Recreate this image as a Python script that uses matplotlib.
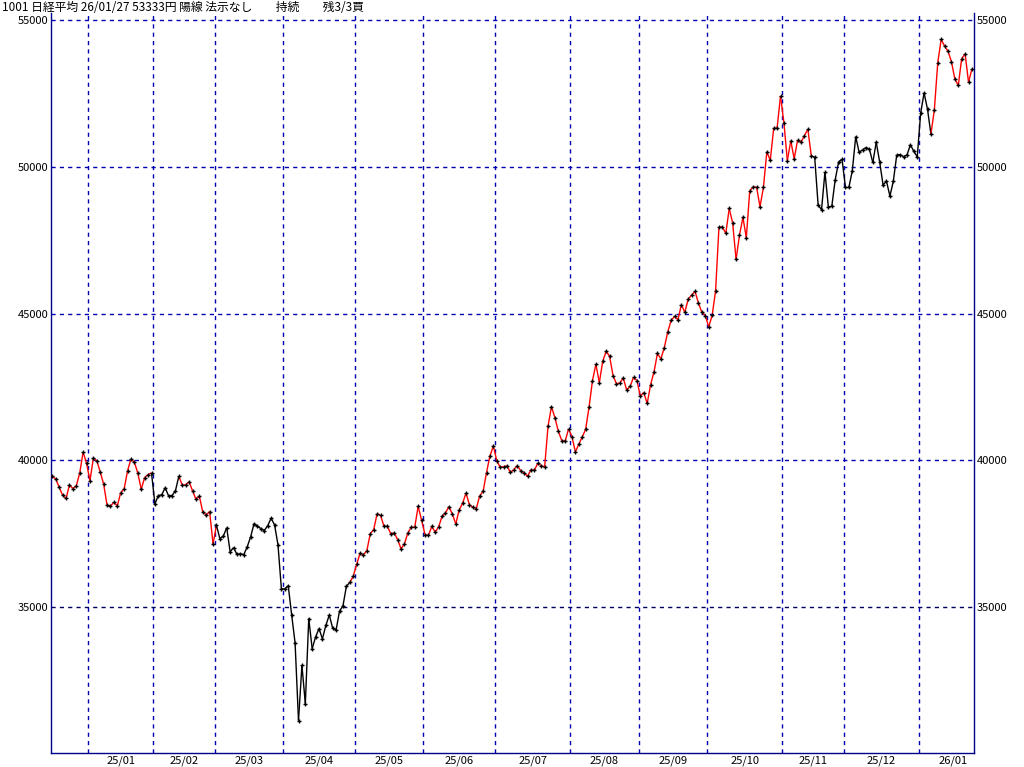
import matplotlib
matplotlib.use('Agg')
import matplotlib.pyplot as plt
from matplotlib.collections import LineCollection
from matplotlib.ticker import FixedLocator
import numpy as np

plt.rcParams['font.family'] = ['Noto Sans CJK JP', 'DejaVu Sans']

# daily closes, 2024/12/13 .. 2026/01/27
closes_by_month = {
    '24/12': [39470, 39457, 39364, 39081, 38813, 38701, 39161, 39036, 39130, 39568, 40281, 39894],
    '25/01': [39307, 40083, 39981, 39605, 39190, 38474, 38444, 38572, 38451, 38902, 39027, 39646,
              40048, 39931, 39566, 39016, 39415, 39514, 39572],
    '25/02': [38520, 38798, 38831, 39066, 38787, 38801, 38963, 39461, 39149, 39174, 39270, 38964,
              38678, 38776, 38237, 38142, 38256, 37155],
    '25/03': [37785, 37331, 37418, 37704, 36887, 37028, 36793, 36819, 36790, 37053, 37396, 37845,
              37751, 37677, 37608, 37780, 38027, 37800, 37120, 35617],
    '25/04': [35624, 35725, 34735, 33780, 31136, 33012, 31714, 34609, 33585, 33982, 34267, 33920,
              34377, 34730, 34280, 34220, 34868, 35039, 35705, 35839, 36045],
    '25/05': [36452, 36831, 36780, 36928, 37503, 37644, 38183, 38128, 37755, 37753, 37498, 37529,
              37299, 36985, 37160, 37532, 37724, 37722, 38432, 37965],
    '25/06': [37470, 37446, 37747, 37554, 37741, 38089, 38211, 38421, 38173, 37834, 38311, 38537,
              38885, 38488, 38403, 38354, 38790, 38942, 39584, 40150, 40487],
    '25/07': [39986, 39762, 39785, 39811, 39588, 39688, 39821, 39646, 39570, 39459, 39678, 39663,
              39901, 39819, 39775, 41171, 41826, 41456, 40998, 40674, 40654, 41069],
    '25/08': [40800, 40290, 40549, 40794, 41059, 41820, 42718, 43274, 42649, 43378, 43714, 43546,
              42888, 42610, 42633, 42807, 42394, 42520, 42829, 42718],
    '25/09': [42188, 42310, 41938, 42580, 43018, 43643, 43459, 43837, 44372, 44768, 44902, 44790,
              45303, 45045, 45493, 45630, 45754, 45354, 45043, 44932],
    '25/10': [44550, 44936, 45769, 47944, 47950, 47734, 48580, 48088, 46847, 47672, 48277, 47582,
              49185, 49316, 49307, 48641, 49299, 50512, 50219, 51307, 51325, 52411],
    '25/11': [51497, 50212, 50883, 50276, 50911, 50842, 51063, 51281, 50376, 50323, 48702, 48537,
              49823, 48626, 48659, 49559, 50167, 50253],
    '25/12': [49303, 49303, 49865, 51028, 50491, 50581, 50655, 50602, 50148, 50836, 50168, 49383,
              49512, 49001, 49507, 50402, 50412, 50344, 50407, 50750, 50526, 50339],
    '26/01': [51832, 52518, 51961, 51117, 51940, 53549, 54341, 54110, 53936, 53583, 52991, 52774,
              53689, 53846, 52885, 53333],
}
# index ranges of the red (buy signal) stretches
red_ranges = [(0, 30), (38, 49), (88, 223), (258, 270)]
y_ticks = [35000, 40000, 45000, 50000, 55000]
title = '1001 日経平均 26/01/27 53333円 陽線 法示なし\u3000\u3000持続\u3000\u3000残3/3買'

months = list(closes_by_month.keys())
closes = np.concatenate([closes_by_month[m] for m in months])
idx = np.arange(len(closes))

starts = []
n = 0
for m in months:
    starts.append(n)
    n += len(closes_by_month[m])
bounds = [s - 0.5 for s in starts[1:]]

fig = plt.figure(figsize=(10.24, 7.67), dpi=100)
ax = fig.add_axes([51 / 1024, 14 / 767, 923 / 1024, 740 / 767])

navy = '#00008B'
grid_blue = '#0000B0'

pts = np.column_stack([idx, closes])
segs = np.stack([pts[:-1], pts[1:]], axis=1)
colors = []
for i in range(len(segs)):
    red = any(a <= i < b for a, b in red_ranges)
    colors.append('#FF0000' if red else '#000000')
ax.add_collection(LineCollection(segs, colors=colors, linewidths=1.0, zorder=3))
ax.plot(idx, closes, linestyle='none', marker='+', ms=3.5, mew=1.0, color='black', zorder=4)

ax.set_xlim(0.6, len(closes) - 0.4)
ax.set_ylim(30030, 55240)

for b in bounds:
    ax.axvline(b, color=grid_blue, linestyle=(0, (3, 3)), linewidth=1.0, zorder=1)
for v in y_ticks:
    ax.axhline(v, color=grid_blue if v != 35000 else '#000060', linestyle=(0, (3, 3)), linewidth=1.0, zorder=1)

ax.set_yticks(y_ticks)
ax.set_yticklabels([str(v) for v in y_ticks])
ax.tick_params(axis='y', which='both', length=0, labelsize=8, labelright=True, pad=2)

mids = [(bounds[i] + bounds[i + 1]) / 2 for i in range(len(bounds) - 1)]
mids.append((bounds[-1] + ax.get_xlim()[1]) / 2 + 2)
ax.xaxis.set_major_locator(FixedLocator(mids))
ax.set_xticklabels(months[1:])
ax.tick_params(axis='x', length=0, labelsize=8, pad=2)

ax.spines['top'].set_visible(False)
for side in ['left', 'right', 'bottom']:
    ax.spines[side].set_color(navy)
    ax.spines[side].set_linewidth(1.0)

fig.text(2 / 1024, 1 - 1 / 767, title, ha='left', va='top', fontsize=8.5)

fig.savefig('out.png', dpi=100)
plt.close(fig)
